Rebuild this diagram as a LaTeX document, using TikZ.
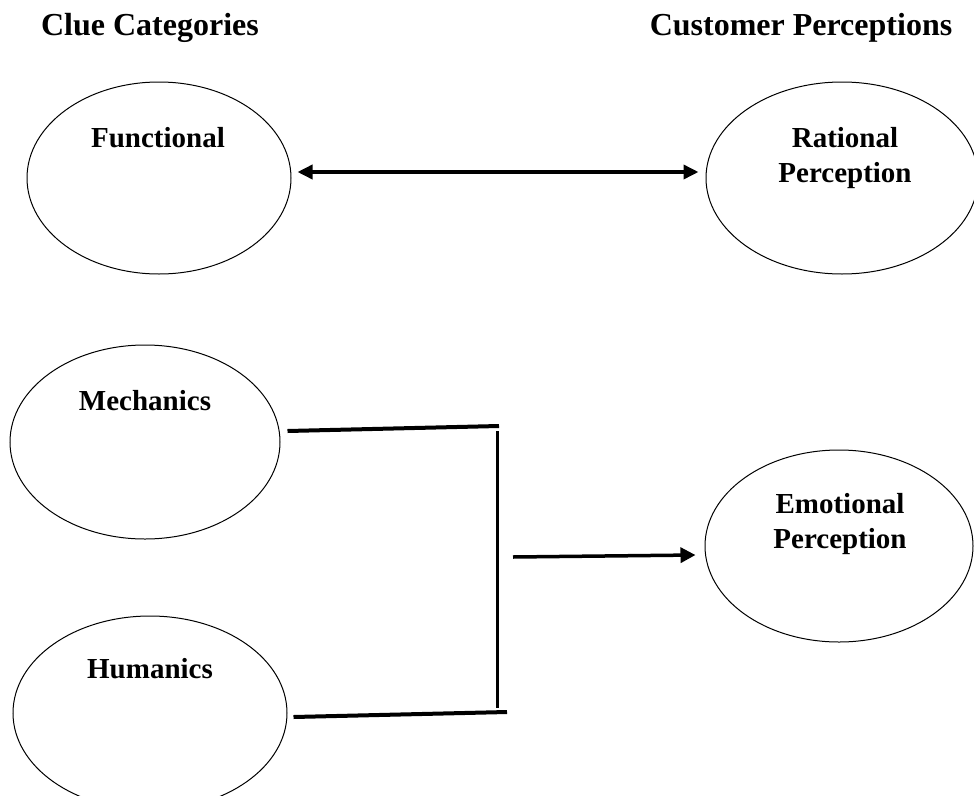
\documentclass[tikz,border=0pt]{standalone}
\usepackage{fontspec}
\setmainfont{Liberation Serif}
\usetikzlibrary{shapes.geometric,arrows.meta}
\begin{document}
\begin{tikzpicture}[x=1pt,y=-1pt,
  oval/.style={draw,ellipse,line width=1pt,inner sep=0pt},
  lbl/.style={anchor=base,inner sep=0pt,font=\bfseries\fontsize{29}{35}\selectfont},
  heading/.style={anchor=base,inner sep=0pt,font=\bfseries\fontsize{32}{38}\selectfont},
  bar/.style={line width=4pt},
  stem/.style={line width=3pt},
  flow/.style={line width=3.5pt,-{Triangle[length=15pt,width=15pt]}},
  twoway/.style={line width=3.5pt,{Triangle[length=15pt,width=14pt]}-{Triangle[length=15pt,width=14pt]}}]
\useasboundingbox (0,0) rectangle (974,795);

% column headings
\node[heading] (hclue) at (150,35) {Clue Categories};
\node[heading] (hcust) at (801,35) {Customer Perceptions};

% clue ovals
\node[oval,minimum width=264pt,minimum height=192pt] (fun) at (159,178) {};
\node[oval,minimum width=270pt,minimum height=194pt] (mech) at (145,442) {};
\node[oval,minimum width=274pt,minimum height=194pt] (hum) at (150,713) {};

% perception ovals
\node[oval,minimum width=272pt,minimum height=192pt] (rat) at (842,178) {};
\node[oval,minimum width=268pt,minimum height=192pt] (emo) at (839,546) {};

% oval captions
\node[lbl] (tfun) at (158,147) {Functional};
\node[lbl] (tmech) at (145,410) {Mechanics};
\node[lbl] (thum) at (150,678) {Humanics};
\node[lbl] (trat1) at (845,147) {Rational};
\node[lbl] (trat2) at (845,182) {Perception};
\node[lbl] (temo1) at (840,513) {Emotional};
\node[lbl] (temo2) at (840,548) {Perception};

% functional <-> rational
\draw[twoway] ([xshift=6pt,yshift=6pt]fun.east) -- ([xshift=-7pt,yshift=6pt]rat.west);

% bracket joining mechanics and humanics
\coordinate (jtop) at (499,426);
\coordinate (jbot) at (507,712);
\coordinate (vtop) at (497,431);
\coordinate (vbot) at (497,708);
\coordinate (src) at (513,557);
\draw[bar] ([xshift=7pt,yshift=11pt]mech.east) -- (jtop);
\draw[bar] ([xshift=6pt,yshift=-4pt]hum.east) -- (jbot);
\draw[stem] (vtop) -- (vbot);
\draw[flow] (src) -- ([xshift=-9pt,yshift=-9pt]emo.west);
\end{tikzpicture}
\end{document}
